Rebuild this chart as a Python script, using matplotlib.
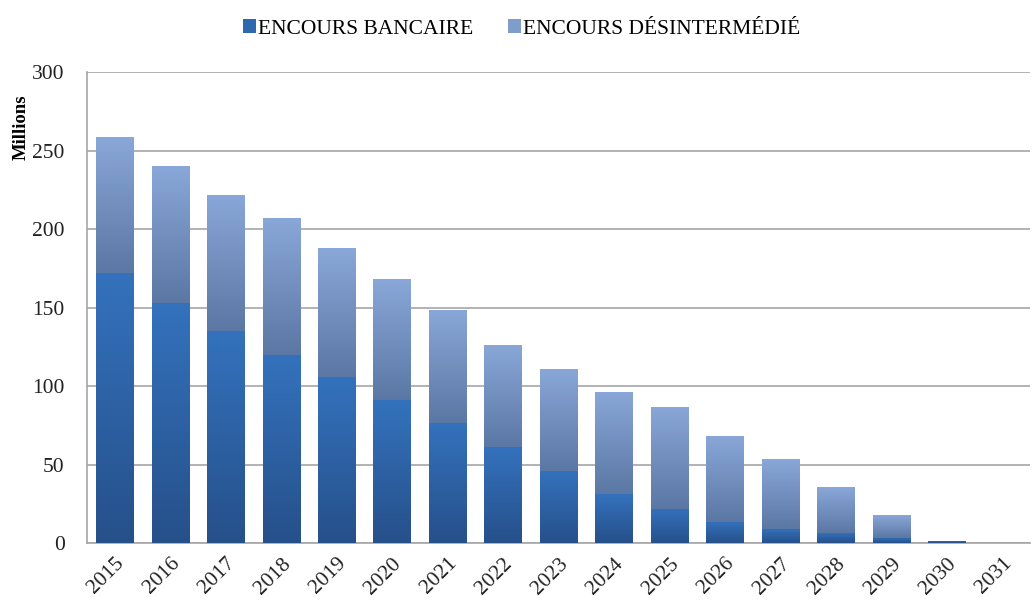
import numpy as np
import matplotlib
matplotlib.use('Agg')
import matplotlib.pyplot as plt
from matplotlib.colors import LinearSegmentedColormap

years = [str(y) for y in range(2015, 2032)]
bancaire = [172, 153, 135, 120, 106, 91, 76.5, 61, 46, 31, 21.7, 13.4, 9, 6.4, 3.2, 1.5, 0]
desinter = [86.6, 87, 86.7, 87, 82, 77, 72, 65, 65, 65, 65, 55, 44.5, 29.3, 14.6, 0, 0]

plt.rcParams['font.family'] = ['Liberation Serif', 'DejaVu Serif']

fig = plt.figure(figsize=(10.33, 6.01), dpi=100)
ax = fig.add_axes([0.0842, 0.0965, 0.9128, 0.7835])

x = np.arange(len(years))
w = 0.67
b1 = ax.bar(x, bancaire, w, color='#3068ad', label='ENCOURS BANCAIRE', zorder=3)
b2 = ax.bar(x, desinter, w, bottom=bancaire, color='#7f9ccb', label='ENCOURS DÉSINTERMÉDIÉ', zorder=3)

# vertical gradients clipped to each bar
cm1 = LinearSegmentedColormap.from_list('c1', ['#26508a', '#3472bd'])
cm2 = LinearSegmentedColormap.from_list('c2', ['#5b77a4', '#89a7d8'])
grad = np.linspace(0, 1, 256).reshape(-1, 1)
for bars, cm in ((b1, cm1), (b2, cm2)):
    for r in bars:
        if r.get_height() <= 0:
            continue
        x0, y0 = r.get_x(), r.get_y()
        im = ax.imshow(grad, cmap=cm, origin='lower', aspect='auto',
                       extent=[x0, x0 + r.get_width(), y0, y0 + r.get_height()],
                       zorder=3.5)
        im.set_clip_path(r)
        r.set_edgecolor('none')

ax.set_xlim(-0.5, len(years) - 0.5)
ax.set_ylim(0, 300)
ax.set_yticks([0, 50, 100, 150, 200, 250, 300])
ax.set_xticks(x)
ax.set_xticklabels(years, rotation=45, ha='right', rotation_mode='anchor')
ax.tick_params(axis='both', labelsize=15.5, length=0, colors='#222222')
ax.tick_params(axis='x', pad=8)
ax.tick_params(axis='y', pad=16)
ax.yaxis.grid(True, color='#a6a6a6', linewidth=1.2, zorder=0)
ax.set_axisbelow(True)
for s in ('top', 'right'):
    ax.spines[s].set_visible(False)
for s in ('left', 'bottom'):
    ax.spines[s].set_color('#a6a6a6')
    ax.spines[s].set_linewidth(1.2)
ax.set_ylabel('Millions', fontsize=13.5, fontweight='bold')
ax.yaxis.set_label_coords(-0.061, 0.882)

fig.legend(handles=[b1, b2], loc='upper center', bbox_to_anchor=(0.505, 1.0), ncol=2,
           frameon=False, fontsize=15.5, handlelength=0.6, handleheight=0.6,
           handletextpad=0.1, columnspacing=1.6)

fig.savefig('out.png', dpi=100)
